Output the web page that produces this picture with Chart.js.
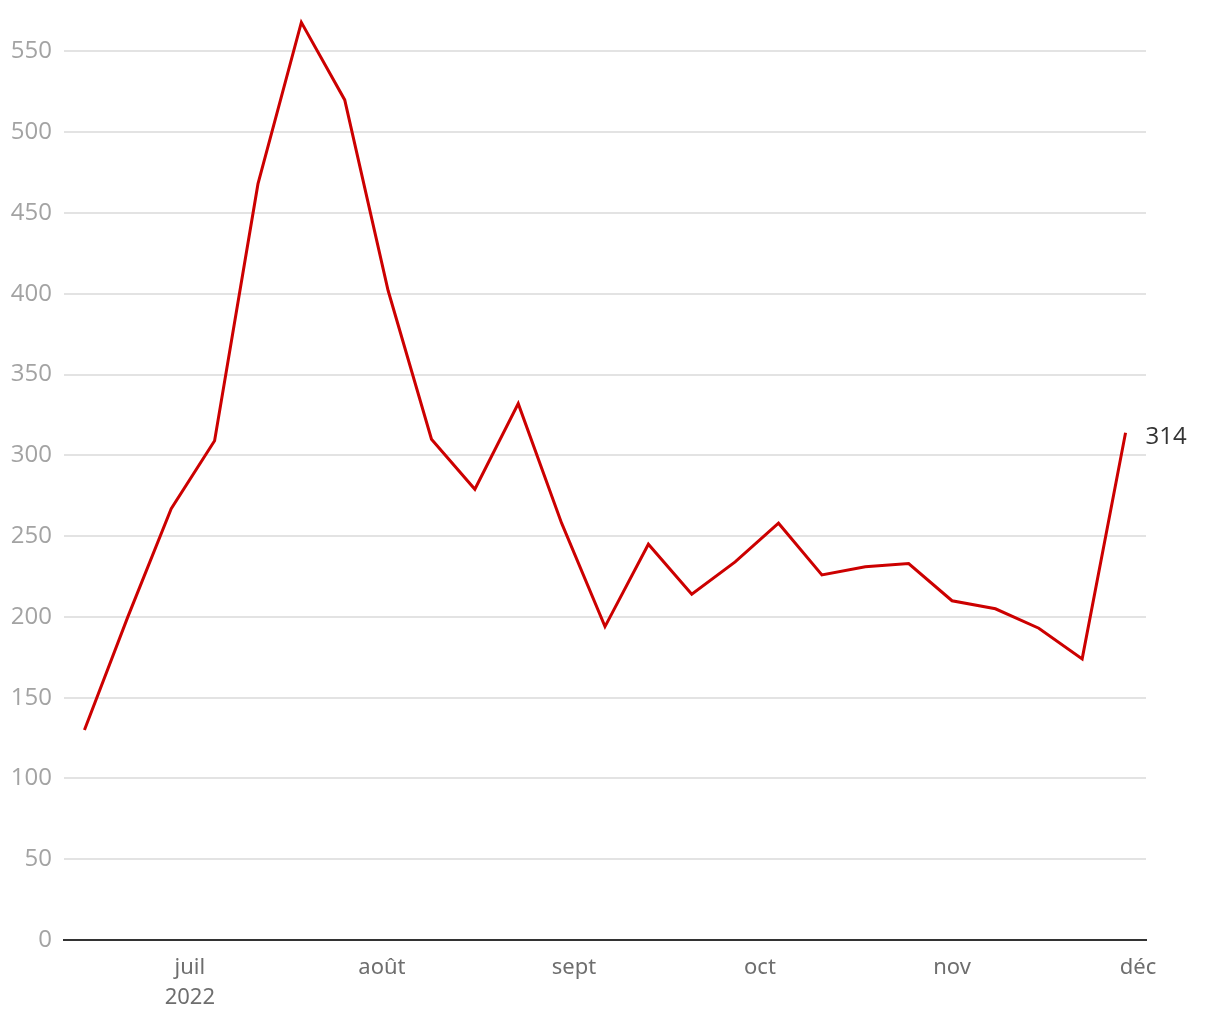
<!DOCTYPE html>
<html>
<head>
<meta charset="utf-8">
<script src="https://cdn.jsdelivr.net/npm/chart.js@4/dist/chart.umd.min.js"></script>
<style>
  html, body { margin: 0; padding: 0; background: #fff; }
  #wrap { width: 1220px; height: 1020px; position: relative; }
</style>
</head>
<body>
<div id="wrap"><canvas id="chart"></canvas></div>
<script>
// days counted from 1 June 2022 (weekly readings, Tuesdays)
const weekDays = [13, 20, 27, 34, 41, 48, 55, 62, 69, 76, 83, 90, 97, 104, 111, 118, 125, 132, 139, 146, 153, 160, 167, 174, 181];
const values = [130, 200, 267, 309, 468, 568, 520, 402, 310, 279, 332, 258, 194, 245, 214, 234, 258, 226, 231, 233, 210, 205, 193, 174, 314];

// month ticks: position (days from 1 June) and label
const monthDays = [30, 61, 92, 122, 153, 183];
const monthLabels = [['juil', '2022'], 'août', 'sept', 'oct', 'nov', 'déc'];

const yTicks = [0, 50, 100, 150, 200, 250, 300, 350, 400, 450, 500, 550];

const points = weekDays.map((d, i) => ({ x: d, y: values[i] }));

// label next to the last point
const endLabel = {
  id: 'endLabel',
  afterDatasetsDraw(chart) {
    const meta = chart.getDatasetMeta(0);
    const last = meta.data[meta.data.length - 1];
    const ctx = chart.ctx;
    ctx.save();
    ctx.font = '24px "Open Sans", sans-serif';
    ctx.fillStyle = '#333333';
    ctx.textAlign = 'left';
    ctx.textBaseline = 'middle';
    ctx.fillText(String(values[values.length - 1]), last.x + 20, last.y + 4);
    ctx.restore();
  }
};

new Chart(document.getElementById('chart'), {
  type: 'line',
  data: {
    datasets: [{
      data: points,
      borderColor: '#cc0000',
      borderWidth: 3,
      pointRadius: 0,
      tension: 0,
      fill: false,
      clip: false
    }]
  },
  options: {
    responsive: true,
    maintainAspectRatio: false,
    animation: false,
    layout: { padding: { left: 10, right: 74, top: 6, bottom: 0 } },
    plugins: {
      legend: { display: false },
      tooltip: { enabled: false }
    },
    scales: {
      x: {
        type: 'linear',
        min: 9.7,
        max: 184.3,
        afterBuildTicks: scale => {
          scale.ticks = monthDays.map(v => ({ value: v }));
        },
        afterFit: scale => { scale.height = 80; },
        grid: { display: false, drawTicks: false },
        border: { display: true, color: '#333333', width: 2 },
        ticks: {
          autoSkip: false,
          maxRotation: 0,
          padding: 13,
          color: '#6e6e6e',
          font: { family: '"Noto Sans", sans-serif', size: 22, lineHeight: 1.36 },
          callback: (v) => {
            const i = monthDays.indexOf(v);
            return i >= 0 ? monthLabels[i] : '';
          }
        }
      },
      y: {
        min: 0,
        max: 565.5,
        afterBuildTicks: scale => {
          scale.ticks = yTicks.map(v => ({ value: v }));
        },
        afterFit: scale => { scale.width = 54; },
        grid: { color: '#e3e3e3', lineWidth: 2, drawTicks: false },
        border: { display: false },
        ticks: {
          padding: 12,
          color: '#a3a3a3',
          font: { family: '"Open Sans", sans-serif', size: 24 }
        }
      }
    }
  },
  plugins: [endLabel]
});
</script>
</body>
</html>
